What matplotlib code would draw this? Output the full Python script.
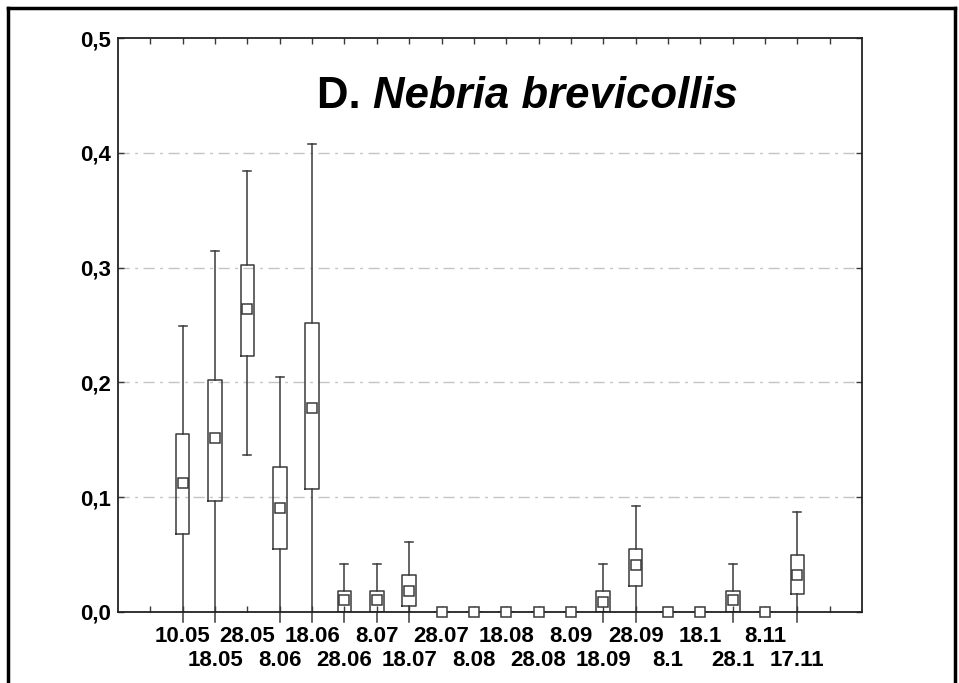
import matplotlib.pyplot as plt
from matplotlib.lines import Line2D

# --- data ---
dates = ["10.05", "18.05", "28.05", "8.06", "18.06", "28.06", "8.07", "18.07",
         "28.07", "8.08", "18.08", "28.08", "8.09", "18.09", "28.09", "8.1",
         "18.1", "28.1", "8.11", "17.11"]
whis_hi = [0.249, 0.315, 0.384, 0.205, 0.408, 0.042, 0.042, 0.061,
           0, 0, 0, 0, 0, 0.042, 0.092, 0, 0, 0.042, 0, 0.087]
q3 = [0.155, 0.202, 0.302, 0.126, 0.252, 0.018, 0.018, 0.032,
      0, 0, 0, 0, 0, 0.018, 0.055, 0, 0, 0.018, 0, 0.050]
median = [0.112, 0.152, 0.264, 0.091, 0.178, 0.010, 0.010, 0.018,
          0, 0, 0, 0, 0, 0.009, 0.041, 0, 0, 0.010, 0, 0.032]
q1 = [0.068, 0.097, 0.223, 0.055, 0.107, 0, 0, 0.005,
      0, 0, 0, 0, 0, 0, 0.023, 0, 0, 0, 0, 0.016]
# lower whiskers go below zero (cut just under the axis)
whis_lo = [-0.009, -0.009, 0.137, -0.009, -0.009, -0.009, -0.009, -0.009,
           0, 0, 0, 0, 0, -0.009, -0.009, 0, 0, -0.009, 0, -0.009]

plt.rcParams['font.family'] = ['Liberation Sans', 'DejaVu Sans']
line_col = '#3a3a3a'

fig = plt.figure(figsize=(9.59, 6.83), dpi=100)
ax = fig.add_axes([0.123, 0.104, 0.776, 0.840])

pos = list(range(1, len(dates) + 1))
stats = []
for i in range(len(dates)):
    stats.append(dict(med=median[i], q1=q1[i], q3=q3[i],
                      whislo=whis_lo[i], whishi=whis_hi[i], fliers=[]))

bp = ax.bxp(stats, positions=pos, widths=0.42, capwidths=0.25,
            showfliers=False, patch_artist=False,
            boxprops=dict(color=line_col, lw=1.1),
            whiskerprops=dict(color=line_col, lw=1.1),
            capprops=dict(color=line_col, lw=1.1),
            medianprops=dict(linestyle='none'))

# whiskers may poke below the axis; hide caps that sit on/under the box
for i in range(len(dates)):
    for w in bp['whiskers'][2 * i:2 * i + 2]:
        w.set_clip_on(False)
    lo_cap, hi_cap = bp['caps'][2 * i], bp['caps'][2 * i + 1]
    if whis_lo[i] < 0 or whis_lo[i] == q1[i]:
        lo_cap.set_visible(False)
    if whis_hi[i] == q3[i]:
        hi_cap.set_visible(False)

ax.plot(pos, median, 's', ms=6.5, mfc='white', mec=line_col, mew=1.1,
        clip_on=False, zorder=4)

ax.set_xlim(-1, 22)
ax.set_ylim(0, 0.5)
ax.set_yticks([0, 0.1, 0.2, 0.3, 0.4, 0.5])
ax.set_yticklabels(["0,0", "0,1", "0,2", "0,3", "0,4", "0,5"],
                   fontsize=16, fontweight='bold')
for y in [0.1, 0.2, 0.3, 0.4]:
    ax.axhline(y, color='#c4c4c4', lw=1, ls=(0, (8, 4, 2, 4)), zorder=0)

ax.set_xticks(range(0, 22))
ax.set_xticklabels([])
ax.tick_params(axis='x', direction='in', length=4, top=True, width=1,
               color=line_col)
ax.tick_params(axis='y', direction='in', length=4, right=True, width=1,
               color=line_col, pad=5)

# two-row date labels
for i, d in enumerate(dates):
    yy = -0.021 if i % 2 == 0 else -0.042
    ax.text(pos[i], yy, d, ha='center', va='center', fontsize=16,
            fontweight='bold', clip_on=False)

for s in ax.spines.values():
    s.set_color('#222222')
    s.set_linewidth(1.3)

ax.text(0.389, 0.842, "D. ", transform=fig.transFigure, ha='right',
        va='baseline', fontsize=31.5, fontweight='bold')
ax.text(0.389, 0.842, "Nebria brevicollis", transform=fig.transFigure,
        ha='left', va='baseline', fontsize=31.5, fontweight='bold',
        fontstyle='italic')

# outer frame (open at the bottom, as in the source scan)
x0, x1, ytop = 8 / 959, 955 / 959, 1 - 8 / 683
fig.add_artist(Line2D([x0, x0], [0, ytop], color='black', lw=2.5,
                      transform=fig.transFigure))
fig.add_artist(Line2D([x1, x1], [0, ytop], color='black', lw=2.5,
                      transform=fig.transFigure))
fig.add_artist(Line2D([x0, x1], [ytop, ytop], color='black', lw=2.5,
                      transform=fig.transFigure))

fig.savefig("out.png", dpi=100)
